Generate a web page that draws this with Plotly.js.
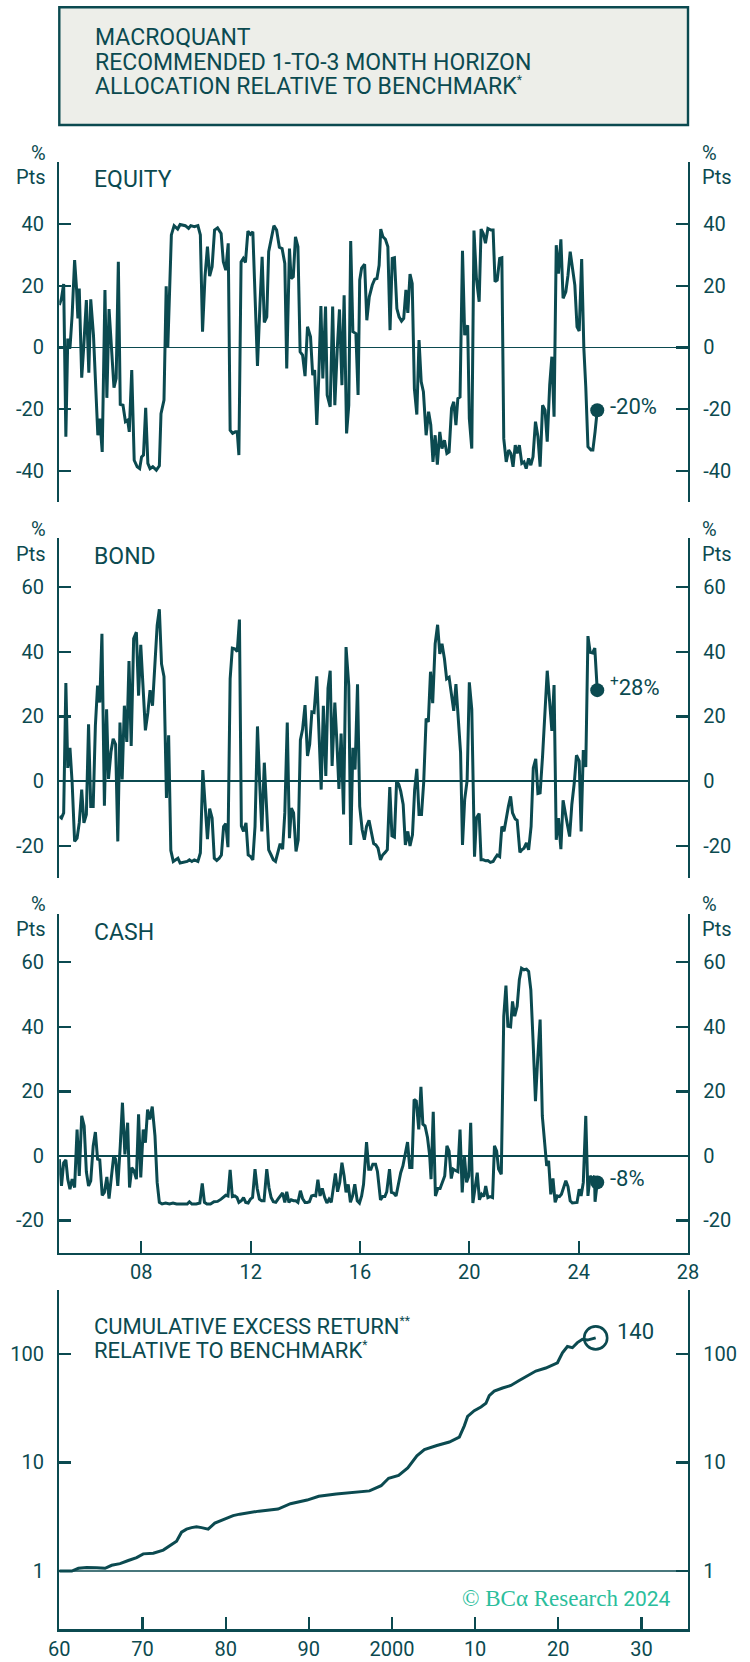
<!DOCTYPE html>
<html>
<head>
<meta charset="utf-8">
<script src="https://cdn.plot.ly/plotly-3.0.1.min.js"></script>
<style>
html,body{margin:0;padding:0;background:#ffffff;}
#chart{width:750px;height:1662px;}
</style>
</head>
<body>
<div id="chart"></div>
<script>
// ---------------- DATA ----------------
const eqX = [
2005.00,2005.08,2005.16,2005.24,2005.31,2005.39,2005.47,2005.56,2005.63,2005.68,
2005.73,2005.82,2005.89,2005.99,2006.08,2006.15,2006.25,2006.35,2006.41,2006.48,
2006.57,2006.67,2006.74,2006.82,2006.91,2007.00,2007.08,2007.16,2007.23,2007.33,
2007.42,2007.50,2007.56,2007.65,2007.74,2007.85,2007.94,2008.01,2008.08,2008.16,
2008.24,2008.32,2008.42,2008.55,2008.66,2008.72,2008.83,2008.91,2008.97,2009.05,
2009.10,2009.20,2009.33,2009.42,2009.61,2009.73,2009.81,2009.94,2010.07,2010.16,
2010.24,2010.33,2010.42,2010.50,2010.59,2010.68,2010.79,2010.92,2011.00,2011.09,
2011.18,2011.25,2011.34,2011.44,2011.51,2011.57,2011.65,2011.73,2011.81,2011.90,
2011.99,2012.08,2012.16,2012.25,2012.34,2012.42,2012.50,2012.59,2012.66,2012.75,
2012.85,2012.95,2013.05,2013.15,2013.25,2013.32,2013.42,2013.48,2013.56,2013.64,
2013.73,2013.81,2013.90,2013.99,2014.08,2014.19,2014.27,2014.34,2014.42,2014.49,
2014.57,2014.64,2014.74,2014.80,2014.91,2015.00,2015.08,2015.17,2015.25,2015.34,
2015.42,2015.51,2015.59,2015.66,2015.74,2015.85,2015.93,2015.99,2016.06,2016.17,
2016.25,2016.34,2016.45,2016.54,2016.62,2016.70,2016.76,2016.84,2016.93,2017.02,
2017.10,2017.18,2017.26,2017.35,2017.43,2017.52,2017.60,2017.68,2017.75,2017.83,
2017.91,2017.99,2018.08,2018.16,2018.24,2018.32,2018.42,2018.51,2018.59,2018.67,
2018.75,2018.83,2018.92,2019.00,2019.09,2019.18,2019.26,2019.35,2019.43,2019.51,
2019.58,2019.66,2019.75,2019.83,2019.94,2020.00,2020.09,2020.17,2020.26,2020.36,
2020.43,2020.51,2020.59,2020.68,2020.79,2020.87,2020.94,2021.02,2021.11,2021.19,
2021.26,2021.35,2021.44,2021.52,2021.60,2021.68,2021.75,2021.83,2021.92,2022.00,
2022.08,2022.17,2022.25,2022.33,2022.42,2022.51,2022.59,2022.68,2022.77,2022.85,
2022.94,2023.02,2023.10,2023.18,2023.26,2023.35,2023.43,2023.53,2023.61,2023.69,
2023.78,2023.86,2023.94,2024.02,2024.11,2024.19,2024.26,2024.34,2024.45,2024.52,
2024.60,2024.68];
const eqY = [
13.7,15.9,20.5,-28.9,2.9,-0.3,10.5,28.3,19.1,9.4,
19.1,-9.8,-0.3,15.3,-8.2,15.6,4.0,-17.6,-28.4,-23.0,
-33.8,18.6,-16.3,12.4,-1.4,-13.0,-10.0,27.7,-18.4,-18.7,
-24.0,-23.5,-27.3,-7.3,-36.5,-38.6,-39.2,-35.4,-34.8,-19.5,
-37.5,-39.2,-38.6,-39.7,-38.3,-21.4,-17.0,19.8,0.2,19.1,
36.4,39.4,38.3,39.8,39.4,38.5,39.4,39.1,39.4,36.4,
5.1,22.9,32.6,23.1,26.1,38.0,38.7,36.9,27.7,25.0,
33.7,-26.8,-27.8,-27.3,-27.3,-34.8,27.7,28.8,27.5,37.6,
36.6,37.4,19.1,-6.0,13.7,29.3,8.1,9.9,31.0,35.3,
39.4,38.0,32.4,32.0,27.2,-6.8,32.0,22.3,22.9,35.8,
32.6,-1.4,-2.5,-9.3,6.7,3.5,-9.0,-7.3,-25.1,-10.0,
13.4,-10.0,13.2,-15.4,-19.2,13.2,-18.7,-0.3,12.3,-12.2,
16.9,-27.8,-18.7,34.4,5.1,4.5,-15.4,21.8,25.7,26.9,
8.8,16.4,20.2,22.1,22.3,26.6,38.3,35.8,35.0,32.6,
5.6,28.8,29.0,12.6,9.9,8.5,9.4,18.6,11.2,23.7,
20.7,-13.3,-21.7,2.4,-11.1,-14.3,-28.4,-20.8,-25.1,-37.0,
-28.4,-37.9,-27.3,-32.7,-30.0,-34.3,-33.8,-19.7,-17.6,-25.1,
-16.5,-16.0,31.3,4.0,7.2,-23.0,-32.7,37.8,22.3,14.8,
38.3,36.9,33.7,38.5,38.0,38.0,21.3,21.8,28.8,29.0,
-29.5,-37.0,-33.2,-34.3,-38.6,-31.6,-34.3,-31.6,-37.5,-37.0,
-39.2,-35.9,-38.1,-35.4,-24.0,-28.9,-38.6,-18.7,-20.3,-30.5,
-12.2,-3.0,-22.4,33.1,23.9,35.0,15.9,18.0,23.4,31.0,
25.0,20.2,6.7,5.3,28.6,-0.3,-12.7,-32.1,-33.2,-33.2,
-27.3,-20.3];

const bondX = [
2005.00,2005.08,2005.16,2005.24,2005.31,2005.39,2005.47,2005.56,2005.65,2005.73,
2005.82,2005.90,2005.99,2006.07,2006.15,2006.24,2006.32,2006.40,2006.48,2006.56,
2006.65,2006.73,2006.80,2006.89,2006.97,2007.06,2007.14,2007.22,2007.30,2007.38,
2007.47,2007.55,2007.63,2007.72,2007.82,2007.90,2007.98,2008.07,2008.15,2008.24,
2008.32,2008.41,2008.50,2008.58,2008.66,2008.74,2008.83,2008.92,2009.00,2009.08,
2009.17,2009.26,2009.34,2009.42,2009.55,2009.68,2009.76,2009.85,2009.94,2010.07,
2010.16,2010.25,2010.33,2010.42,2010.50,2010.59,2010.67,2010.76,2010.85,2010.93,
2011.01,2011.09,2011.17,2011.25,2011.33,2011.42,2011.51,2011.59,2011.66,2011.74,
2011.83,2011.91,2012.00,2012.08,2012.16,2012.25,2012.33,2012.41,2012.50,2012.58,
2012.66,2012.75,2012.83,2012.91,2013.00,2013.08,2013.17,2013.25,2013.34,2013.42,
2013.49,2013.57,2013.66,2013.74,2013.82,2013.90,2013.99,2014.08,2014.16,2014.24,
2014.32,2014.42,2014.50,2014.58,2014.66,2014.75,2014.83,2014.91,2014.98,2015.08,
2015.15,2015.23,2015.31,2015.40,2015.49,2015.59,2015.66,2015.74,2015.82,2015.91,
2015.99,2016.08,2016.16,2016.24,2016.33,2016.41,2016.50,2016.58,2016.66,2016.75,
2016.83,2016.92,2017.00,2017.09,2017.17,2017.26,2017.34,2017.42,2017.49,2017.58,
2017.66,2017.75,2017.83,2017.92,2018.00,2018.08,2018.16,2018.25,2018.33,2018.42,
2018.50,2018.58,2018.66,2018.75,2018.84,2018.92,2019.00,2019.09,2019.17,2019.26,
2019.34,2019.43,2019.51,2019.58,2019.68,2019.75,2019.83,2019.92,2020.00,2020.09,
2020.19,2020.26,2020.36,2020.43,2020.51,2020.60,2020.68,2020.77,2020.87,2020.94,
2021.02,2021.11,2021.19,2021.27,2021.35,2021.43,2021.51,2021.58,2021.68,2021.75,
2021.85,2021.92,2022.00,2022.09,2022.17,2022.26,2022.34,2022.43,2022.51,2022.59,
2022.68,2022.76,2022.85,2022.94,2023.02,2023.10,2023.18,2023.26,2023.35,2023.43,
2023.50,2023.60,2023.67,2023.75,2023.84,2023.92,2024.02,2024.09,2024.17,2024.26,
2024.34,2024.42,2024.51,2024.59,2024.68];
const bondY = [
-10.9,-11.4,-9.8,30.3,4.1,10.3,-0.5,-18.6,-17.6,-12.9,
-2.6,-12.9,-10.3,17.6,-7.8,-7.8,17.1,29.5,24.3,45.5,
-7.6,22.2,0.7,9.0,13.1,11.4,-18.6,18.1,0.5,23.3,
12.1,37.1,10.9,44.0,46.0,26.4,42.1,26.4,15.7,21.2,
28.1,23.3,35.2,48.1,53.1,36.2,32.3,-5.2,14.2,-21.4,
-24.8,-24.3,-23.8,-25.3,-25.1,-24.8,-24.3,-24.8,-24.3,-24.8,
-22.2,3.4,-6.7,-17.9,-8.5,-11.4,-23.8,-24.5,-23.8,-22.8,
-14.0,-13.1,-20.4,31.6,41.1,40.9,40.0,49.9,-13.8,-15.5,
-12.9,-22.8,-23.3,-24.3,-14.0,16.9,-0.5,-15.5,5.7,-7.8,
-21.2,-22.8,-24.3,-24.8,-22.2,-19.3,-21.0,-9.8,18.1,-17.6,
-8.3,-9.8,-21.7,-18.1,12.7,16.0,23.5,7.8,11.4,21.4,
21.2,32.4,15.0,-2.6,23.3,1.6,28.7,34.1,4.7,24.3,
12.9,-2.4,14.7,-10.3,41.4,29.5,-19.7,10.3,3.6,29.9,
-7.8,-15.0,-18.1,-14.0,-12.1,-15.5,-19.3,-19.7,-20.7,-24.3,
-22.8,-22.0,-21.2,-1.8,-16.9,-17.3,0.0,-1.0,-3.1,-7.2,
-19.7,-15.5,-20.0,-16.6,-2.6,3.8,-10.3,-10.3,-0.5,19.3,
18.3,33.8,24.1,42.4,48.3,39.3,42.4,37.8,31.6,32.1,
27.4,21.7,30.0,22.2,8.8,-19.7,-5.7,0.2,30.5,22.2,
-23.3,-11.4,-10.0,-24.3,-24.3,-24.6,-24.5,-25.1,-24.8,-23.8,
-22.8,-23.3,-14.0,-15.5,-11.4,-7.8,-4.7,-9.8,-11.7,-12.1,
-22.0,-21.2,-20.7,-19.1,-21.2,-14.0,4.1,6.9,-3.8,-3.6,
7.8,19.7,34.1,24.3,15.5,29.7,-18.1,-11.4,-21.0,-5.9,
-9.6,-14.0,-17.1,-7.2,-0.5,8.0,6.2,-15.5,9.6,4.4,
44.8,39.8,39.6,41.1,28.1];

const cashX = [
2005.00,2005.08,2005.16,2005.24,2005.31,2005.39,2005.47,2005.56,2005.65,2005.73,
2005.82,2005.91,2005.99,2006.07,2006.15,2006.24,2006.32,2006.40,2006.48,2006.57,
2006.65,2006.74,2006.82,2006.91,2006.99,2007.06,2007.14,2007.23,2007.31,2007.40,
2007.50,2007.57,2007.65,2007.73,2007.82,2007.90,2007.98,2008.07,2008.15,2008.23,
2008.31,2008.40,2008.50,2008.58,2008.66,2008.76,2008.89,2009.03,2009.16,2009.29,
2009.42,2009.55,2009.68,2009.76,2009.85,2010.01,2010.14,2010.23,2010.31,2010.40,
2010.53,2010.66,2010.79,2010.92,2011.01,2011.09,2011.17,2011.25,2011.33,2011.42,
2011.50,2011.57,2011.66,2011.74,2011.82,2011.91,2011.99,2012.07,2012.16,2012.24,
2012.32,2012.40,2012.49,2012.59,2012.67,2012.75,2012.83,2012.92,2013.00,2013.08,
2013.17,2013.25,2013.32,2013.40,2013.48,2013.57,2013.65,2013.73,2013.82,2013.90,
2013.99,2014.07,2014.15,2014.23,2014.30,2014.38,2014.46,2014.54,2014.62,2014.71,
2014.79,2014.87,2014.95,2015.02,2015.10,2015.18,2015.26,2015.34,2015.42,2015.49,
2015.57,2015.65,2015.73,2015.81,2015.90,2015.98,2016.06,2016.13,2016.24,2016.32,
2016.40,2016.47,2016.57,2016.64,2016.75,2016.83,2016.91,2016.98,2017.08,2017.15,
2017.23,2017.32,2017.40,2017.49,2017.57,2017.65,2017.74,2017.82,2017.90,2017.98,
2018.06,2018.15,2018.23,2018.30,2018.38,2018.47,2018.55,2018.60,2018.68,2018.76,
2018.85,2018.93,2019.02,2019.10,2019.18,2019.26,2019.34,2019.41,2019.51,2019.58,
2019.66,2019.74,2019.82,2019.90,2019.98,2020.05,2020.13,2020.21,2020.29,2020.37,
2020.45,2020.53,2020.60,2020.68,2020.76,2020.85,2020.92,2021.00,2021.07,2021.17,
2021.26,2021.34,2021.41,2021.51,2021.58,2021.66,2021.75,2021.83,2021.91,2022.00,
2022.09,2022.17,2022.25,2022.33,2022.42,2022.50,2022.59,2022.67,2022.75,2022.83,
2022.90,2022.98,2023.06,2023.14,2023.22,2023.30,2023.37,2023.45,2023.53,2023.61,
2023.69,2023.77,2023.86,2023.94,2024.02,2024.09,2024.17,2024.26,2024.34,2024.42,
2024.50,2024.58,2024.60,2024.68];
const cashY = [
-1.0,-9.3,-2.1,-1.2,-7.2,-10.3,-7.2,-9.8,8.2,-6.2,
12.4,9.3,-4.9,-9.3,-7.7,3.1,7.4,-1.0,-1.2,-12.2,
-11.3,-6.5,-13.2,-6.2,0.0,-1.0,-9.3,3.1,16.5,0.5,
10.3,-9.8,-3.6,-4.6,-7.2,12.9,-6.7,8.2,4.1,14.4,
11.3,15.3,6.2,-8.2,-14.4,-14.9,-14.6,-14.9,-14.6,-14.9,
-14.9,-14.9,-14.9,-14.2,-14.9,-14.9,-14.6,-8.5,-14.4,-14.9,
-14.9,-14.2,-14.1,-13.4,-12.9,-12.2,-12.4,-4.3,-12.6,-12.4,
-12.9,-14.4,-13.9,-12.9,-14.4,-14.6,-13.4,-12.9,-4.1,-10.1,
-13.4,-13.9,-13.9,-4.1,-9.8,-12.9,-14.2,-14.4,-13.4,-12.4,
-11.5,-14.4,-11.1,-14.4,-13.6,-13.9,-13.9,-14.4,-10.8,-13.2,
-14.4,-14.4,-14.2,-12.4,-12.2,-12.4,-7.4,-12.4,-10.1,-12.9,
-14.6,-13.4,-14.4,-10.3,-5.4,-11.1,-8.2,-2.1,-6.2,-11.3,
-8.8,-14.4,-12.4,-8.8,-13.9,-14.6,-12.4,-8.8,4.3,-4.1,
-4.1,-2.6,-2.6,-4.9,-13.6,-12.6,-12.6,-11.1,-4.1,-11.3,
-11.5,-12.4,-8.8,-5.2,-3.1,1.0,4.3,-3.6,-3.6,17.5,
17.0,8.2,21.4,9.8,9.3,5.7,0.0,-7.2,13.7,-12.4,
-10.1,-10.1,-8.2,-6.2,3.1,1.5,-7.0,-4.1,-4.6,-4.9,
8.2,-11.3,0.0,-8.2,-6.2,10.3,-14.6,-10.3,-5.2,-13.6,
-11.9,-12.6,-9.3,-12.9,-12.6,-12.9,3.1,1.5,-4.1,-5.7,
43.3,52.8,40.2,40.0,47.9,43.3,46.4,54.6,58.2,57.7,
57.9,57.2,51.5,36.1,17.0,29.9,42.3,12.4,3.1,-3.1,
-1.5,-11.9,-7.0,-14.4,-12.4,-12.6,-11.9,-9.5,-7.7,-9.5,
-13.9,-14.6,-14.6,-14.4,-10.3,-12.4,-8.2,12.4,-12.4,-6.2,
-7.2,-6.2,-14.2,-8.2];

const cumX = [
1960.0,1961.5,1962.3,1963.3,1964.5,1965.5,1966.3,1967.3,1968.3,1969.3,
1970.1,1971.3,1972.5,1973.3,1974.1,1974.7,1975.3,1975.9,1976.5,1977.1,
1977.9,1978.7,1979.7,1980.9,1981.7,1982.9,1984.0,1986.3,1987.8,1989.8,
1991.2,1993.3,1995.6,1997.3,1998.7,1999.6,2000.8,2001.9,2003.0,2003.9,
2005.4,2006.9,2008.1,2008.7,2009.1,2009.9,2010.7,2011.3,2011.7,2012.3,
2013.3,2014.3,2015.3,2016.5,2017.3,2018.5,2019.3,2019.9,2020.5,2021.1,
2021.7,2022.3,2022.9,2023.5,2024.5];
const cumY = [
1.00,1.00,1.06,1.08,1.07,1.06,1.13,1.17,1.25,1.33,
1.44,1.46,1.56,1.71,1.88,2.28,2.43,2.51,2.55,2.51,
2.43,2.76,2.95,3.24,3.34,3.45,3.56,3.72,4.17,4.50,
4.88,5.11,5.31,5.47,6.10,7.15,7.60,8.90,11.5,13.1,
14.3,15.4,17.1,21.7,26.5,29.9,32.4,35.0,41.2,45.3,
48.4,51.1,56.7,64.1,69.3,73.9,78.2,82.6,101.8,116.7,
113.7,126.7,136.0,133.6,140.0];

const topXTickVals = [2008,2012,2016,2020,2024,2028];
const topXTickText = ['08','12','16','20','24','28'];
const botXTickVals = [1960,1970,1980,1990,2000,2010,2020,2030];
const botXTickText = ['60','70','80','90','2000','10','20','30'];
const eqTicks = [-40,-20,0,20,40];
const bondTicks = [-20,0,20,40,60];
const cashTicks = [-20,0,20,40,60];
const cumTicks = [1,10,100];

const STAR = '<sup><span style="font-size:12px">*</span></sup>';
const STAR2 = '<sup><span style="font-size:12px">**</span></sup>';
const titleLines = ['MACROQUANT','RECOMMENDED 1-TO-3 MONTH HORIZON','ALLOCATION RELATIVE TO BENCHMARK' + STAR];
const panelNames = ['EQUITY','BOND','CASH'];
const cumTitle = ['CUMULATIVE EXCESS RETURN' + STAR2, 'RELATIVE TO BENCHMARK' + STAR];

// ---------------- LAYOUT ----------------
const W = 750, H = 1662;
const PX = p => p / W;
const PY = p => 1 - p / H;
const TEAL = '#0B4A50';
const MINT = '#2BBE9C';
const FONT = 'Roboto, "Open Sans", sans-serif';
const XL = 59.3, XR = 688;
const TICKFONT = {family: FONT, size: 20, color: TEAL};

const eqRange = [-50, 60], bondRange = [-30, 75], cashRange = [-30, 75];
const cumRange = [-0.5361, 2.5868];

function base() {
  return {
    showline: true, linecolor: TEAL, linewidth: 2.2,
    ticks: 'inside', ticklen: 12, tickwidth: 2.2, tickcolor: TEAL,
    showgrid: false, zeroline: false, fixedrange: true,
    tickfont: TICKFONT, tickmode: 'array'
  };
}
function bracket(vals) {
  return {tickmode: 'array', tickvals: vals, ticks: 'inside', ticklen: 12,
          tickwidth: 2.2, tickcolor: TEAL, showgrid: false};
}
function yLeft(domain, range, ticks, anchorX) {
  return Object.assign(base(), {
    domain: domain, range: range, anchor: anchorX, side: 'left',
    tickvals: ticks, ticktext: ticks.map(String),
    minor: bracket(range),
    ticklabelstandoff: 9,
    zeroline: true, zerolinecolor: TEAL, zerolinewidth: 1.4
  });
}
function yRight(over, range, ticks, anchorX) {
  return Object.assign(base(), {
    overlaying: over, range: range, anchor: anchorX, side: 'right',
    tickvals: ticks, ticktext: ticks.map(String),
    minor: bracket(range),
    ticklabelstandoff: 9
  });
}
const cumTop = Math.pow(10, cumRange[1]);

const layout = {
  width: W, height: H,
  margin: {l: 0, r: 0, t: 0, b: 0, pad: 0},
  paper_bgcolor: '#ffffff', plot_bgcolor: 'rgba(0,0,0,0)',
  showlegend: false,
  font: {family: FONT, color: TEAL},
  xaxis: Object.assign(base(), {
    domain: [PX(XL), PX(XR)], range: [2005, 2028], anchor: 'y3',
    tickvals: topXTickVals, ticktext: topXTickText, ticklabelstandoff: 0
  }),
  yaxis: yLeft([PY(502), PY(162)], eqRange, eqTicks, 'x'),
  yaxis2: yLeft([PY(878.3), PY(538.3)], bondRange, bondTicks, 'x'),
  yaxis3: yLeft([PY(1252.7), PY(914)], cashRange, cashTicks, 'x'),
  yaxis5: yRight('y', eqRange, eqTicks, 'x'),
  yaxis6: yRight('y2', bondRange, bondTicks, 'x'),
  yaxis7: yRight('y3', cashRange, cashTicks, 'x'),
  xaxis4: Object.assign(base(), {
    domain: [PX(XL), PX(XR)], range: [1960, 2035.6], anchor: 'y4',
    tickvals: botXTickVals, ticktext: botXTickText, ticklabelstandoff: 0
  }),
  yaxis4: Object.assign(base(), {
    type: 'log', domain: [PY(1629.3), PY(1290)], range: cumRange, anchor: 'x4',
    side: 'left', ticklabelstandoff: 9,
    tickvals: cumTicks, ticktext: cumTicks.map(String), minor: bracket([cumTop])
  }),
  yaxis8: Object.assign(base(), {
    type: 'log', overlaying: 'y4', range: cumRange, anchor: 'x4',
    side: 'right', ticklabelstandoff: 9,
    tickvals: cumTicks, ticktext: cumTicks.map(String), minor: bracket([cumTop])
  }),
  shapes: [
    {type: 'rect', xref: 'paper', yref: 'paper', x0: PX(XL), x1: PX(XR), y0: PY(125), y1: PY(7.3),
     fillcolor: '#EDEEE9', line: {color: TEAL, width: 2.4}, layer: 'below'},
    {type: 'line', xref: 'x4 domain', yref: 'y4', x0: 0, x1: 1, y0: cumTicks[0], y1: cumTicks[0],
     line: {color: TEAL, width: 1.4}, layer: 'below'}
  ],
  annotations: []
};

const A = layout.annotations;
// title box text
const titleY = [37.7, 62.3, 86.7];
titleLines.forEach((t, i) => A.push({
  xref: 'paper', yref: 'paper', x: PX(93), y: PY(titleY[i]), xanchor: 'left', yanchor: 'middle',
  text: t, showarrow: false, font: {family: FONT, size: 23, color: TEAL}
}));
// panel names and unit labels
const panelTops = [162, 538.3, 914];
panelNames.forEach((t, i) => {
  const top = panelTops[i];
  A.push({xref: 'paper', yref: 'paper', x: PX(92), y: PY(top + 18), xanchor: 'left', yanchor: 'middle',
    text: t, showarrow: false, font: {family: FONT, size: 23, color: TEAL}});
  [['%', top - 9.5], ['Pts', top + 15.3]].forEach(([s, yy]) => {
    A.push({xref: 'paper', yref: 'paper', x: PX(48), y: PY(yy), xanchor: 'right', yanchor: 'middle',
      text: s, showarrow: false, font: {family: FONT, size: 20, color: TEAL}});
    A.push({xref: 'paper', yref: 'paper', x: PX(700), y: PY(yy), xanchor: 'left', yanchor: 'middle',
      text: s, showarrow: false, font: {family: FONT, size: 20, color: TEAL}});
  });
});
// cumulative title
[1326, 1350.7].forEach((yy, i) => A.push({
  xref: 'paper', yref: 'paper', x: PX(91.5), y: PY(yy), xanchor: 'left', yanchor: 'middle',
  text: cumTitle[i], showarrow: false, font: {family: FONT, size: 22, color: TEAL}
}));

// end-point labels from data
function pct(v) {
  const r = Math.round(v);
  return (r > 0 ? '<sup>+</sup>' : '') + r + '%';
}
const last = a => a[a.length - 1];
[[eqX, eqY, 'y'], [bondX, bondY, 'y2'], [cashX, cashY, 'y3']].forEach(([xs, ys, ya]) => {
  A.push({xref: 'x', yref: ya, x: last(xs), y: last(ys), xanchor: 'left', yanchor: 'middle',
    xshift: 11, yshift: 4, text: pct(last(ys)), showarrow: false,
    font: {family: FONT, size: 22, color: TEAL}});
});
A.push({xref: 'x4', yref: 'y4', x: last(cumX), y: Math.log10(last(cumY)), xanchor: 'left', yanchor: 'middle',
  xshift: 19, yshift: 6, text: String(Math.round(last(cumY))), showarrow: false,
  font: {family: FONT, size: 22, color: TEAL}});

// copyright
A.push({xref: 'paper', yref: 'paper', x: PX(673), y: PY(1598.5), xanchor: 'right', yanchor: 'middle',
  text: '<span style="font-family:Liberation Serif,serif;font-size:23px">© BCα Research</span> 2024',
  showarrow: false, font: {family: FONT, size: 21, color: MINT}});

// ---------------- TRACES ----------------
const lineStyle = {color: TEAL, width: 3};
const traces = [
  {x: eqX, y: eqY, xaxis: 'x', yaxis: 'y', mode: 'lines', line: lineStyle, hoverinfo: 'skip'},
  {x: bondX, y: bondY, xaxis: 'x', yaxis: 'y2', mode: 'lines', line: lineStyle, hoverinfo: 'skip'},
  {x: cashX, y: cashY, xaxis: 'x', yaxis: 'y3', mode: 'lines', line: lineStyle, hoverinfo: 'skip'},
  {x: cumX, y: cumY, xaxis: 'x4', yaxis: 'y4', mode: 'lines', line: {color: TEAL, width: 3}, hoverinfo: 'skip'},
  {x: [last(eqX)], y: [last(eqY)], xaxis: 'x', yaxis: 'y5', mode: 'markers',
   marker: {size: 14, color: TEAL}, cliponaxis: false, hoverinfo: 'skip'},
  {x: [last(bondX)], y: [last(bondY)], xaxis: 'x', yaxis: 'y6', mode: 'markers',
   marker: {size: 14, color: TEAL}, cliponaxis: false, hoverinfo: 'skip'},
  {x: [last(cashX)], y: [last(cashY)], xaxis: 'x', yaxis: 'y7', mode: 'markers',
   marker: {size: 14, color: TEAL}, cliponaxis: false, hoverinfo: 'skip'},
  {x: [last(cumX)], y: [last(cumY)], xaxis: 'x4', yaxis: 'y8', mode: 'markers',
   marker: {size: 23, symbol: 'circle-open', color: TEAL, line: {width: 2.6, color: TEAL}},
   cliponaxis: false, hoverinfo: 'skip'}
];

Plotly.newPlot('chart', traces, layout, {staticPlot: true, displayModeBar: false});
</script>
</body>
</html>
